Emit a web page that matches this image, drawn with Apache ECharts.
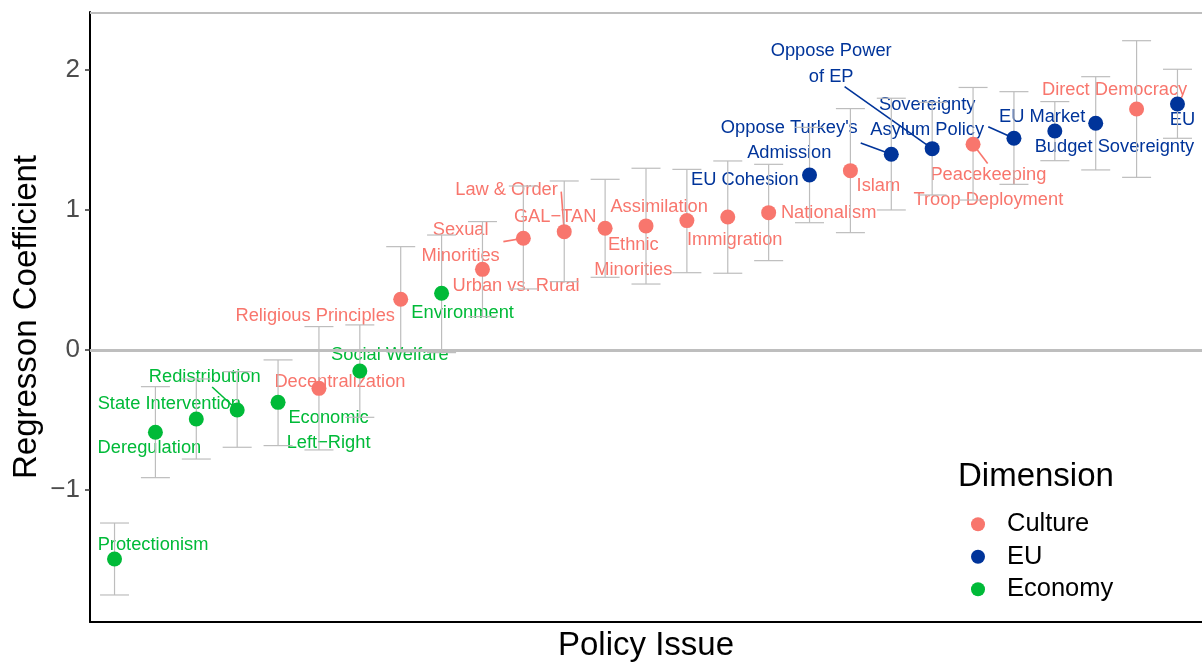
<!DOCTYPE html>
<html>
<head>
<meta charset="utf-8">
<script src="https://cdn.jsdelivr.net/npm/echarts@6/dist/echarts.min.js"></script>
<style>
html,body{margin:0;padding:0;background:#fff;}
#chart{width:1202px;height:663px;}
</style>
</head>
<body>
<div id="chart"></div>
<script>
// ---------- data ----------
const issues = ["Protectionism","Deregulation","State Intervention","Redistribution","Economic\nLeft\u2212Right","Decentralization","Social Welfare","Religious Principles","Environment","Urban vs. Rural","Sexual\nMinorities","Law & Order","GAL\u2212TAN","Ethnic\nMinorities","Assimilation","Immigration","Nationalism","EU Cohesion","Islam","Oppose Turkey's\nAdmission","Oppose Power\nof EP","Peacekeeping\nTroop Deployment","Sovereignty\nAsylum Policy","EU Market","Budget Sovereignty","Direct Democracy","EU"];
const dimension = ["Economy","Economy","Economy","Economy","Economy","Culture","Economy","Culture","Economy","Culture","Culture","Culture","Culture","Culture","Culture","Culture","Culture","EU","Culture","EU","EU","Culture","EU","EU","EU","Culture","EU"];
const coef  = [-1.493,-0.588,-0.493,-0.429,-0.374,-0.274,-0.150,0.362,0.405,0.576,0.798,0.845,0.869,0.886,0.924,0.950,0.981,1.250,1.281,1.398,1.438,1.469,1.512,1.564,1.619,1.721,1.757];
const lower = [-1.750,-0.912,-0.779,-0.695,-0.683,-0.714,-0.481,-0.014,-0.019,0.238,0.436,0.488,0.519,0.471,0.552,0.548,0.638,0.909,0.838,1.000,1.107,1.071,1.183,1.352,1.286,1.233,1.512];
const upper = [-1.236,-0.262,-0.207,-0.155,-0.071,0.167,0.179,0.738,0.821,0.917,1.171,1.207,1.219,1.298,1.290,1.350,1.326,1.590,1.724,1.798,1.769,1.875,1.845,1.774,1.952,2.209,2.005];
const dimensions = ["Culture","EU","Economy"];
const yTicks = [-1,0,1,2];
const yMin = -1.943, yMax = 2.414;

// ---------- style / layout ----------
const colors = {Culture:"#F8766D", EU:"#00349A", Economy:"#00BA38"};
const FONT = "'Liberation Sans', Arial, Helvetica, sans-serif";
// label offsets in px relative to point: [dx, dy, segStartDx, segStartDy]
const labelLayout = [
 [38.5,-14],[-6,16],[-27,-15],[-32.5,-33,-25,-23],[50.5,28],
 [21,-6],[30,-16],[-85.5,17],[21,20],[33.5,17],
 [-62.7,4.7,-20,3.4],[-57.7,-41.7,-3,-40],[-50,-11],[-12.7,31.5],[-27.7,-13.7],
 [7,23],[60,0],[-64.7,5],[28,15],[-102,-14,-30.6,-11.3],
 [-101,-84.7,-87.6,-62],[15.3,43,14.6,19.3],[-86.7,-20.8,-25.7,-11.6],[-12.7,-14],[18.7,23.7],
 [-22,-19],[5,16]
];

const chart = echarts.init(document.getElementById('chart'), null, {renderer:'canvas'});

const errData = issues.map((n,i)=>[i+1, lower[i], upper[i]]);
const labData = issues.map((n,i)=>[i+1, coef[i], i]);

const series = [];
series.push({
  type:'custom', name:'errorbars', z:2, clip:false, silent:true,
  data: errData,
  renderItem: function(params, api){
    const x = api.value(0);
    const top = api.coord([x, api.value(2)]);
    const bot = api.coord([x, api.value(1)]);
    const hw = 14.5;
    const st = {stroke:'#BDBDBD', lineWidth:1.2};
    return {type:'group', children:[
      {type:'line', shape:{x1:top[0],y1:top[1],x2:bot[0],y2:bot[1]}, style:st},
      {type:'line', shape:{x1:top[0]-hw,y1:top[1],x2:top[0]+hw,y2:top[1]}, style:st},
      {type:'line', shape:{x1:bot[0]-hw,y1:bot[1],x2:bot[0]+hw,y2:bot[1]}, style:st}
    ]};
  },
  markLine:{
    silent:true, symbol:'none', label:{show:false}, animation:false,
    data:[
      {yAxis:0, lineStyle:{color:'#BEBEBE', width:3, type:'solid'}},
      {yAxis:yMax, lineStyle:{color:'#BEBEBE', width:2, type:'solid'}}
    ]
  }
});
series.push({
  type:'custom', name:'labels', z:1, clip:false, silent:true,
  data: labData,
  renderItem: function(params, api){
    const i = api.value(2);
    const p = api.coord([api.value(0), api.value(1)]);
    const L = labelLayout[i];
    const col = colors[dimension[i]];
    const ch = [{
      type:'text', x:p[0]+L[0], y:p[1]+L[1],
      style:{text:issues[i], fill:col, font:'18.3px '+FONT, align:'center', verticalAlign:'middle', lineHeight:25.5}
    }];
    if (L.length > 2) {
      ch.push({type:'line', shape:{x1:p[0]+L[2], y1:p[1]+L[3], x2:p[0], y2:p[1]}, style:{stroke:col, lineWidth:1.6}});
    }
    return {type:'group', children:ch};
  }
});
dimensions.forEach(d=>{
  series.push({
    type:'scatter', name:d, z:3, symbol:'circle', symbolSize:15,
    itemStyle:{color:colors[d], opacity:1},
    data: issues.map((n,i)=>dimension[i]===d ? [i+1, coef[i]] : null).filter(v=>v),
    emphasis:{disabled:true}
  });
});

chart.setOption({
  animation:false,
  backgroundColor:'#ffffff',
  textStyle:{fontFamily:FONT},
  grid:{left:90, right:0, top:12, bottom:41, containLabel:false},
  xAxis:{
    type:'value', min:0.4, max:27.6,
    axisLine:{show:true, onZero:false, lineStyle:{color:'#000', width:2}},
    axisTick:{show:false}, axisLabel:{show:false}, splitLine:{show:false}
  },
  yAxis:{
    type:'value', min:yMin, max:yMax,
    axisLine:{show:true, onZero:false, lineStyle:{color:'#000', width:2}},
    axisTick:{show:true, length:5, customValues:yTicks, lineStyle:{color:'#333333', width:1.5}},
    axisLabel:{show:true, customValues:yTicks, margin:10, color:'#4D4D4D', fontSize:26, fontFamily:FONT,
      formatter:function(v){ return v<0 ? '\u2212'+Math.abs(v) : String(v); }},
    splitLine:{show:false}
  },
  legend:{
    orient:'vertical', left:966, top:503, itemGap:0,
    icon:'circle', itemWidth:14, itemHeight:14,
    data:dimensions,
    selectedMode:false,
    textStyle:{fontSize:25.5, color:'#000', fontFamily:FONT, lineHeight:32.5, padding:[0,0,0,17]}
  },
  graphic:[
    {type:'text', x:27, y:317, rotation:Math.PI/2, silent:true,
      style:{text:'Regresson Coefficient', font:'33px '+FONT, fill:'#000', align:'center', verticalAlign:'middle'}},
    {type:'text', x:646, y:646, silent:true,
      style:{text:'Policy Issue', font:'33px '+FONT, fill:'#000', align:'center', verticalAlign:'middle'}},
    {type:'text', x:958, y:476.5, silent:true,
      style:{text:'Dimension', font:'33px '+FONT, fill:'#000', align:'left', verticalAlign:'middle'}}
  ],
  series:series
});
</script>
</body>
</html>
